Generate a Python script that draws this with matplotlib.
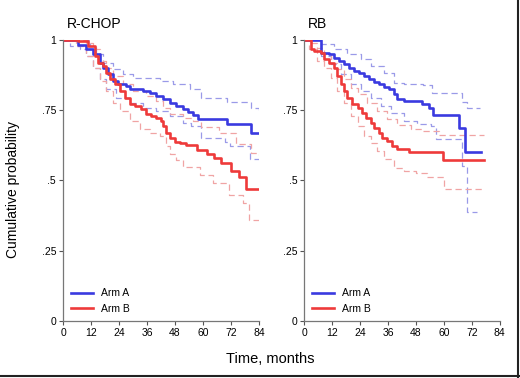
import matplotlib
matplotlib.use("Agg")
import matplotlib.pyplot as plt
from matplotlib.lines import Line2D

plt.rcParams['font.family'] = ['Liberation Sans', 'DejaVu Sans']

# ---- R-CHOP panel ----
rchop_a_t = [0, 6.4, 10, 12.9, 15.7, 17.1, 19.3, 21.4, 23.6, 27.1, 28.6, 34.3, 37.1, 40, 42.9, 45.7, 48.6, 51.4, 53.6, 55.5, 58, 70.4, 80.6, 84]
rchop_a_p = [1, 0.979, 0.965, 0.947, 0.918, 0.9, 0.876, 0.853, 0.841, 0.835, 0.826, 0.817, 0.809, 0.8, 0.788, 0.776, 0.764, 0.755, 0.743, 0.732, 0.717, 0.70, 0.67, 0.67]
rchop_b_t = [0, 6.4, 10.7, 13.6, 15, 17.1, 18.6, 20, 22.1, 24.3, 26.4, 28.6, 30.7, 33.6, 35.7, 37.9, 40, 42.1, 42.9, 44.3, 45.7, 47.9, 50, 52.9, 57.5, 61.9, 64.7, 67.6, 71.9, 75.6, 78.4, 84]
rchop_b_p = [1, 0.995, 0.977, 0.941, 0.918, 0.906, 0.882, 0.859, 0.841, 0.817, 0.794, 0.770, 0.764, 0.752, 0.735, 0.729, 0.723, 0.711, 0.694, 0.670, 0.652, 0.637, 0.632, 0.625, 0.608, 0.594, 0.579, 0.561, 0.535, 0.513, 0.471, 0.471]
rchop_a_up_t = [0, 6.4, 11.4, 14.3, 17.1, 21.4, 25.7, 30, 41.4, 47.1, 54.3, 59, 70.4, 80.6, 84]
rchop_a_up_p = [1, 0.998, 0.977, 0.947, 0.918, 0.894, 0.876, 0.865, 0.853, 0.841, 0.823, 0.791, 0.78, 0.756, 0.75]
rchop_a_lo_t = [0, 2.9, 7.1, 10, 12.9, 15.7, 18.6, 22.9, 28.6, 34.3, 40, 45.7, 51.4, 55, 59, 69.3, 71.6, 80, 84]
rchop_a_lo_p = [1, 0.977, 0.965, 0.941, 0.9, 0.859, 0.823, 0.794, 0.776, 0.758, 0.747, 0.729, 0.705, 0.693, 0.65, 0.638, 0.622, 0.575, 0.575]
rchop_b_up_t = [0, 7.1, 10, 12.9, 15.7, 18.6, 21.4, 25.7, 30, 35.7, 40, 42.9, 45.7, 51.4, 55.7, 59, 67, 74, 80.6, 84]
rchop_b_up_p = [1, 1, 0.989, 0.965, 0.924, 0.9, 0.871, 0.841, 0.817, 0.8, 0.782, 0.758, 0.735, 0.723, 0.711, 0.691, 0.667, 0.631, 0.596, 0.59]
rchop_b_lo_t = [0, 5.7, 10, 12.9, 15.7, 18.6, 21.4, 24.3, 28.6, 32.9, 37.1, 41.4, 44.3, 45.7, 48.6, 51.6, 58.7, 64.4, 71.3, 77, 79.7, 84]
rchop_b_lo_p = [1, 0.977, 0.941, 0.9, 0.853, 0.817, 0.776, 0.747, 0.711, 0.682, 0.670, 0.658, 0.623, 0.593, 0.573, 0.549, 0.52, 0.49, 0.449, 0.419, 0.36, 0.36]

# ---- RB panel ----
rb_a_t = [0, 7.1, 10.7, 12.9, 15, 17.1, 19.3, 21.4, 23.6, 25.7, 27.9, 30, 32.1, 34.3, 36.4, 38.6, 40, 42.9, 50.7, 53.6, 55.5, 66.7, 68.9, 76]
rb_a_p = [1, 0.953, 0.947, 0.935, 0.924, 0.912, 0.9, 0.888, 0.88, 0.87, 0.859, 0.849, 0.841, 0.833, 0.823, 0.806, 0.79, 0.782, 0.770, 0.758, 0.732, 0.685, 0.6, 0.6]
rb_b_t = [0, 2.9, 4.3, 7.1, 8.6, 10.7, 12.9, 14.3, 15.7, 17.1, 18.6, 20.7, 22.9, 25, 26.4, 28.6, 30, 32.1, 33.6, 35.7, 37.9, 40, 45, 59.7, 77.4]
rb_b_p = [1, 0.965, 0.959, 0.953, 0.930, 0.918, 0.9, 0.87, 0.841, 0.817, 0.794, 0.770, 0.758, 0.74, 0.723, 0.705, 0.687, 0.670, 0.652, 0.640, 0.622, 0.613, 0.601, 0.573, 0.573]
rb_a_up_t = [0, 7.1, 12.9, 18.6, 24.3, 28.6, 34.3, 38.6, 42.9, 51, 55, 67.8, 70, 75.4]
rb_a_up_p = [1, 0.983, 0.965, 0.947, 0.930, 0.906, 0.882, 0.847, 0.841, 0.839, 0.809, 0.78, 0.758, 0.758]
rb_a_lo_t = [0, 7.1, 11.4, 15.7, 20, 24.3, 28.6, 32.9, 37.1, 42.9, 48.6, 54.3, 56.8, 67.6, 70, 74.4]
rb_a_lo_p = [1, 0.941, 0.912, 0.876, 0.841, 0.817, 0.794, 0.764, 0.74, 0.711, 0.7, 0.693, 0.646, 0.55, 0.39, 0.39]
rb_b_up_t = [0, 2.9, 5.7, 8.6, 11.4, 14.3, 17.1, 20, 22.9, 27.1, 31.4, 35.7, 40, 45.7, 51, 58.1, 77.4]
rb_b_up_p = [1, 0.989, 0.971, 0.947, 0.918, 0.894, 0.859, 0.829, 0.806, 0.776, 0.746, 0.717, 0.696, 0.684, 0.676, 0.661, 0.661]
rb_b_lo_t = [0, 2.1, 5.7, 8.6, 11.4, 14.3, 17.1, 20, 22.9, 25.7, 28.6, 31.4, 34.3, 38.6, 42.9, 48, 52.8, 59.9, 77.4]
rb_b_lo_p = [1, 0.965, 0.924, 0.9, 0.865, 0.817, 0.776, 0.729, 0.693, 0.658, 0.634, 0.605, 0.575, 0.546, 0.534, 0.525, 0.514, 0.47, 0.47]

xticks = [0, 12, 24, 36, 48, 60, 72, 84]
yticks = [0, 0.25, 0.5, 0.75, 1]
ytick_labels = ['0', '.25', '.5', '.75', '1']

blue = '#3a3ae0'
red = '#ee3a3a'
blue_ci = '#9a9ae8'
red_ci = '#f0a4a4'

panels = [
    ('R-CHOP', rchop_a_t, rchop_a_p, rchop_b_t, rchop_b_p,
     rchop_a_up_t, rchop_a_up_p, rchop_a_lo_t, rchop_a_lo_p,
     rchop_b_up_t, rchop_b_up_p, rchop_b_lo_t, rchop_b_lo_p),
    ('RB', rb_a_t, rb_a_p, rb_b_t, rb_b_p,
     rb_a_up_t, rb_a_up_p, rb_a_lo_t, rb_a_lo_p,
     rb_b_up_t, rb_b_up_p, rb_b_lo_t, rb_b_lo_p),
]

fig = plt.figure(figsize=(5.2, 3.78), dpi=100)
axes = [fig.add_axes([0.1212, 0.1495, 0.377, 0.746]),
        fig.add_axes([0.585, 0.1495, 0.376, 0.746])]

for ax, pan in zip(axes, panels):
    (title, at, ap, bt, bp, aut, aup, alt, alp, but, bup, blt, blp) = pan
    ax.step(aut, aup, where='post', color=blue_ci, lw=0.9, dashes=(5, 3))
    ax.step(alt, alp, where='post', color=blue_ci, lw=0.9, dashes=(5, 3))
    ax.step(but, bup, where='post', color=red_ci, lw=0.9, dashes=(5, 3))
    ax.step(blt, blp, where='post', color=red_ci, lw=0.9, dashes=(5, 3))
    ax.step(at, ap, where='post', color=blue, lw=1.9, label='Arm A')
    ax.step(bt, bp, where='post', color=red, lw=1.9, label='Arm B')

    ax.set_xlim(0, 84)
    ax.set_ylim(0, 1)
    ax.set_xticks(xticks)
    ax.set_yticks(yticks)
    ax.set_yticklabels(ytick_labels)
    ax.tick_params(labelsize=7.5, length=3, width=0.8, color='#555555', pad=2)
    for s in ['top', 'right']:
        ax.spines[s].set_visible(False)
    for s in ['left', 'bottom']:
        ax.spines[s].set_color('#777777')
        ax.spines[s].set_linewidth(0.9)
    ax.text(0.02, 1.03, title, transform=ax.transAxes, fontsize=10, ha='left', va='bottom')
    ax.legend(loc='lower left', bbox_to_anchor=(0.0, 0.0), frameon=False, fontsize=7.5,
              handlelength=2.1, handletextpad=0.8, labelspacing=0.5, borderaxespad=0.35)

fig.text(0.025, 0.5, 'Cumulative probability', rotation=90, ha='center', va='center', fontsize=10)
fig.text(0.52, 0.05, 'Time, months', ha='center', va='center', fontsize=10.5)

# frame lines on right and bottom edges
fig.add_artist(Line2D([0, 1], [0.004, 0.004], transform=fig.transFigure, color='#222222', lw=1.5))
fig.add_artist(Line2D([0.997, 0.997], [0, 1], transform=fig.transFigure, color='#222222', lw=1.5))

fig.savefig('out.png', dpi=100)
